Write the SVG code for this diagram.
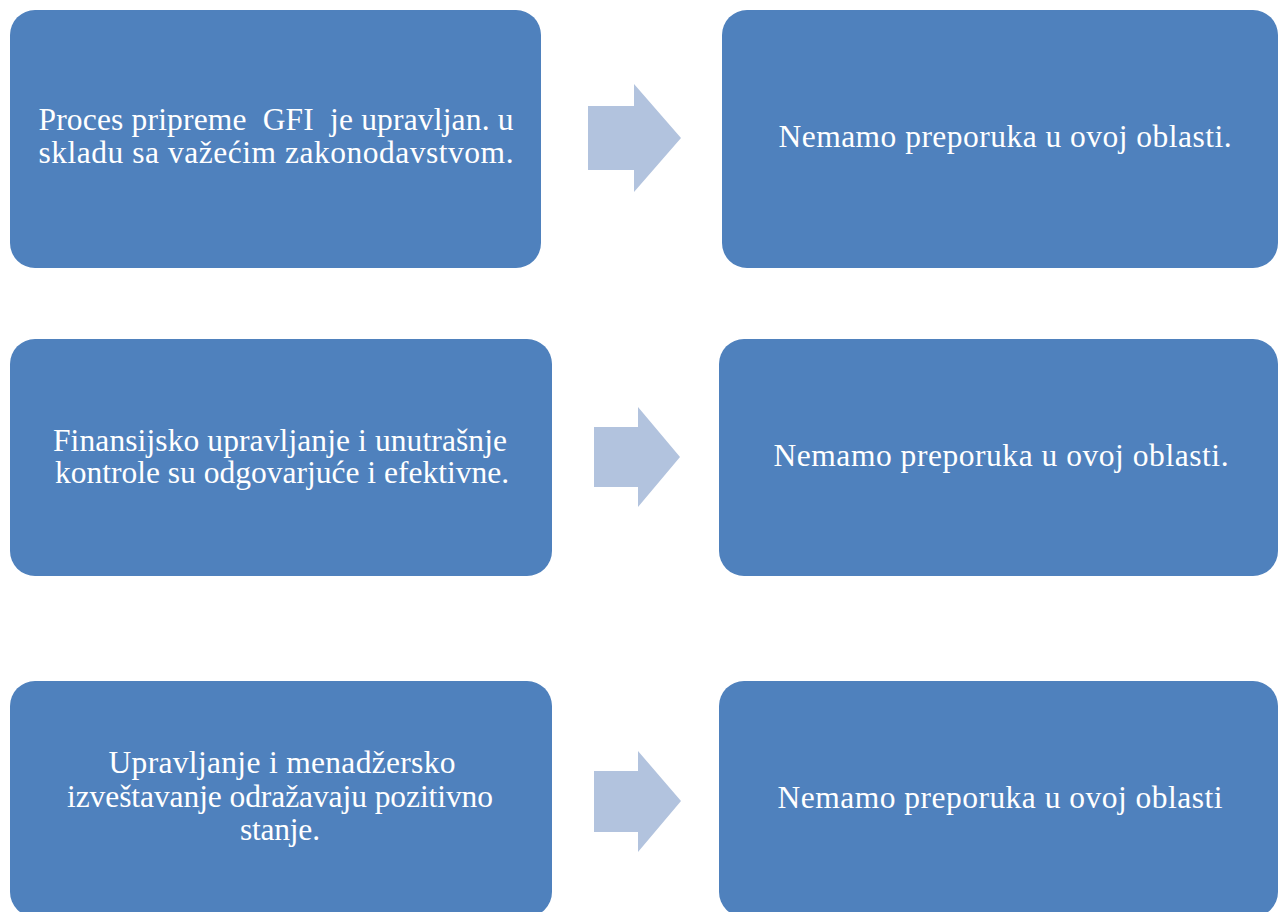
<svg xmlns="http://www.w3.org/2000/svg" width="1279" height="912" viewBox="0 0 1279 912">
  <style>
    .box { fill: #4F81BD; }
    .arrow { fill: #B2C3DE; }
    .t { font-family: "Liberation Serif", "Times New Roman", serif; font-size: 31.5px; fill: #FFFFFF; text-anchor: middle; white-space: pre; }
  </style>
  <rect width="1279" height="912" fill="#FFFFFF"/>
  <g id="connectors">
    <polygon class="arrow" points="588,106 634,106 634,84 681,138 634,192 634,170 588,170"/>
    <polygon class="arrow" points="594,427 638,427 638,407 680,457 638,507 638,487 594,487"/>
    <polygon class="arrow" points="594,771 638,771 638,751 681,801 638,852 638,832 594,832"/>
  </g>
  <g id="node-gfi">
    <rect class="box" x="10" y="10" width="531" height="258" rx="25" ry="25"/>
    <text class="t" xml:space="preserve"><tspan x="276" y="130" textLength="475" lengthAdjust="spacing">Proces pripreme  GFI  je upravljan. u</tspan><tspan x="276" y="163" textLength="475" lengthAdjust="spacing">skladu sa važećim zakonodavstvom.</tspan></text>
  </g>
  <g id="node-rec1">
    <rect class="box" x="722" y="10" width="556" height="258" rx="25" ry="25"/>
    <text class="t" x="1005" y="147" textLength="453" lengthAdjust="spacing">Nemamo preporuka u ovoj oblasti.</text>
  </g>
  <g id="node-finansijsko">
    <rect class="box" x="10" y="339" width="542" height="237" rx="25" ry="25"/>
    <text class="t"><tspan x="280" y="451" textLength="454" lengthAdjust="spacing">Finansijsko upravljanje i unutrašnje</tspan><tspan x="282" y="483" textLength="454" lengthAdjust="spacing">kontrole su odgovarjuće i efektivne.</tspan></text>
  </g>
  <g id="node-rec2">
    <rect class="box" x="719" y="339" width="559" height="237" rx="25" ry="25"/>
    <text class="t" x="1001" y="466" textLength="455" lengthAdjust="spacing">Nemamo preporuka u ovoj oblasti.</text>
  </g>
  <g id="node-upravljanje">
    <rect class="box" x="10" y="681" width="542" height="236" rx="25" ry="25"/>
    <text class="t"><tspan x="282" y="773" textLength="347" lengthAdjust="spacing">Upravljanje i menadžersko</tspan><tspan x="280" y="807" textLength="426" lengthAdjust="spacing">izveštavanje odražavaju pozitivno</tspan><tspan x="280" y="840" textLength="80" lengthAdjust="spacing">stanje.</tspan></text>
  </g>
  <g id="node-rec3">
    <rect class="box" x="719" y="681" width="559" height="236" rx="25" ry="25"/>
    <text class="t" x="1000" y="808" textLength="445" lengthAdjust="spacing">Nemamo preporuka u ovoj oblasti</text>
  </g>
</svg>
